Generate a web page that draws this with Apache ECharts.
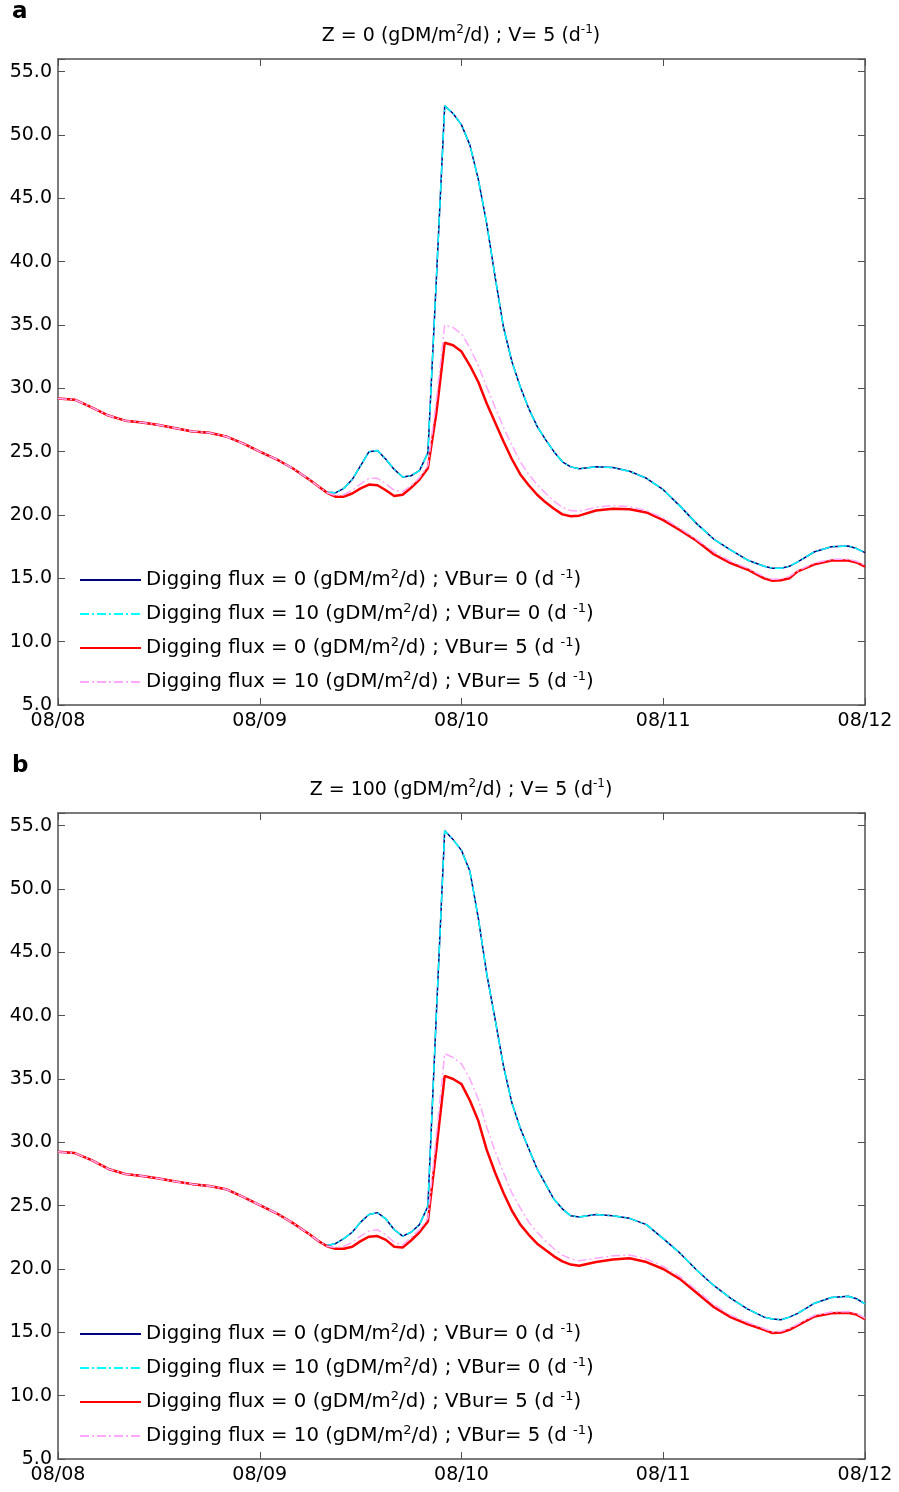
<!DOCTYPE html>
<html><head><meta charset="utf-8">
<script src="https://cdn.jsdelivr.net/npm/echarts@6/dist/echarts.min.js"></script>
<style>html,body{margin:0;padding:0;background:#fff}#c{width:899px;height:1492px}</style>
</head><body><div id="c"></div>
<script>
// Hours since 08/08 00:00
const hours = [0,2,4,6,8,10,12,14,16,18,20,22,24,26,28,30,
  31,32,33,34,35,36,37,38,39,40,41,42,43,44,45,46,47,48,49,50,51,52,53,54,55,56,57,58,59,60,61,62,
  64,66,68,70,72,74,76,78,80,82,84,85,86,87,88,90,92,94,95,96];
const dateLabels = ['08/08','08/09','08/10','08/11','08/12'];
const fluxLabels = ['0','10','0','10'];
const vburLabels = ['0','0','5','5'];
const panelTitles = [['0','5'],['100','5']];
const panelLetters = ['a','b'];

// Panel a (Z = 0)
const a_flux0_v0 = [29.2,29.1,28.5,27.85,27.45,27.3,27.1,26.85,26.6,26.5,26.2,25.65,25.0,24.4,23.65,22.75,
  22.25,21.8,21.75,22.1,22.8,23.9,25.0,25.1,24.4,23.6,23.0,23.1,23.5,24.9,38.5,52.3,51.7,50.8,49.2,46.5,43.0,38.8,34.8,32.1,30.1,28.4,27.0,25.95,25.0,24.2,23.8,23.65,
  23.8,23.75,23.45,22.9,22.0,20.7,19.3,18.1,17.25,16.45,15.95,15.8,15.8,15.95,16.3,17.1,17.5,17.55,17.35,17.03];
const a_flux10_v0 = [29.2,29.1,28.5,27.85,27.45,27.3,27.1,26.85,26.6,26.5,26.2,25.65,25.0,24.4,23.65,22.75,
  22.25,21.8,21.75,22.1,22.8,23.9,25.0,25.1,24.4,23.6,23.0,23.1,23.5,24.9,38.5,52.3,51.7,50.8,49.2,46.5,43.0,38.8,34.8,32.1,30.1,28.4,27.0,25.95,25.0,24.2,23.8,23.65,
  23.8,23.75,23.45,22.9,22.0,20.7,19.3,18.1,17.25,16.45,15.95,15.8,15.8,15.95,16.3,17.1,17.5,17.55,17.35,17.03];
const a_flux0_v5 = [29.2,29.1,28.5,27.85,27.45,27.3,27.1,26.85,26.6,26.5,26.2,25.65,25.0,24.4,23.65,22.75,
  22.25,21.75,21.45,21.45,21.7,22.1,22.4,22.35,21.95,21.5,21.6,22.15,22.8,23.7,28.0,33.6,33.4,32.9,31.8,30.5,28.8,27.3,25.8,24.4,23.2,22.35,21.6,21.0,20.5,20.05,19.9,19.95,
  20.35,20.5,20.45,20.2,19.6,18.8,17.95,16.9,16.2,15.7,15.0,14.8,14.85,15.0,15.55,16.1,16.4,16.4,16.25,15.92];
const a_flux10_v5 = [29.2,29.1,28.5,27.85,27.45,27.3,27.1,26.85,26.6,26.5,26.2,25.65,25.0,24.4,23.65,22.75,
  22.25,21.75,21.55,21.6,21.95,22.45,22.9,22.9,22.45,21.95,21.85,22.3,22.95,23.9,29.0,35.0,34.8,34.3,33.2,31.8,30.1,28.5,26.9,25.5,24.2,23.2,22.4,21.7,21.1,20.6,20.35,20.3,
  20.6,20.75,20.65,20.35,19.75,18.95,18.05,17.1,16.35,15.8,15.12,14.92,14.95,15.15,15.6,16.2,16.5,16.5,16.35,16.02];

// Panel b (Z = 100)
const b_flux0_v0 = [29.25,29.15,28.6,27.9,27.5,27.35,27.15,26.9,26.7,26.55,26.3,25.7,25.05,24.4,23.6,22.7,
  22.2,21.85,22.0,22.4,22.9,23.7,24.3,24.45,23.95,23.1,22.6,22.9,23.5,24.95,40.0,54.6,53.9,53.05,51.4,47.7,43.3,39.7,36.0,33.1,31.1,29.5,27.9,26.7,25.5,24.75,24.2,24.1,
  24.3,24.2,24.0,23.5,22.4,21.25,19.9,18.7,17.7,16.85,16.2,16.05,15.99,16.2,16.5,17.3,17.75,17.85,17.65,17.25];
const b_flux10_v0 = [29.25,29.15,28.6,27.9,27.5,27.35,27.15,26.9,26.7,26.55,26.3,25.7,25.05,24.4,23.6,22.7,
  22.2,21.85,22.0,22.4,22.9,23.7,24.3,24.45,23.95,23.1,22.6,22.9,23.5,24.95,40.0,54.6,53.9,53.05,51.4,47.7,43.3,39.7,36.0,33.1,31.1,29.5,27.9,26.7,25.5,24.75,24.2,24.1,
  24.3,24.2,24.0,23.5,22.4,21.25,19.9,18.7,17.7,16.85,16.2,16.05,15.99,16.2,16.5,17.3,17.75,17.85,17.65,17.25];
const b_flux0_v5 = [29.25,29.15,28.6,27.9,27.5,27.35,27.15,26.9,26.7,26.55,26.3,25.7,25.05,24.4,23.6,22.7,
  22.2,21.8,21.6,21.6,21.75,22.2,22.55,22.6,22.3,21.75,21.7,22.25,22.9,23.75,29.4,35.25,35.0,34.6,33.3,31.7,29.4,27.6,26.0,24.6,23.5,22.7,22.0,21.5,21.0,20.6,20.35,20.25,
  20.55,20.75,20.85,20.55,20.0,19.2,18.1,17.0,16.2,15.65,15.2,14.95,14.98,15.2,15.55,16.25,16.5,16.55,16.4,16.05];
const b_flux10_v5 = [29.25,29.15,28.6,27.9,27.5,27.35,27.15,26.9,26.7,26.55,26.3,25.7,25.05,24.4,23.6,22.7,
  22.2,21.8,21.7,21.8,22.1,22.6,23.0,23.1,22.7,22.1,21.9,22.5,23.1,24.0,30.5,37.0,36.7,36.2,35.0,33.4,31.2,29.3,27.6,26.0,24.8,23.7,22.9,22.2,21.6,21.1,20.8,20.65,
  20.85,21.05,21.1,20.8,20.2,19.4,18.3,17.2,16.35,15.8,15.3,15.05,15.08,15.3,15.65,16.35,16.6,16.65,16.48,16.12];

const panelData = [[a_flux0_v0,a_flux10_v0,a_flux0_v5,a_flux10_v5],[b_flux0_v0,b_flux10_v0,b_flux0_v5,b_flux10_v5]];

const FONT = 'DejaVu Sans';
const seriesNames = fluxLabels.map((f,i)=>'Digging flux = '+f+' (gDM/m2/d) ; VBur= '+vburLabels[i]+' (d -1)');
const richName = (f,v)=>'{n|Digging flux = '+f+' (gDM/m}{s|2}{n|/d) ; VBur= '+v+' (d }{s|-1}{n|)}';
const styles = [
  {color:'#000080', width:1.5, type:'solid'},
  {color:'#00ffff', width:1.5, type:[9,3,2,3]},
  {color:'#ff0000', width:2.5, type:'solid'},
  {color:'#ffa8ff', width:1.5, type:[9,3,2,3]}
];
const gridTops = [59, 813];
const gridH = 646;
const axisColor = '#505050';

const option = {
  animation:false,
  backgroundColor:'#fff',
  textStyle:{fontFamily:FONT},
  title:[], grid:[], xAxis:[], yAxis:[], legend:[], series:[]
};
panelTitles.forEach((t,p)=>{
  option.title.push({text:panelLetters[p], left:12, top:gridTops[p]-58, padding:0,
    textStyle:{fontFamily:FONT, fontSize:23, fontWeight:'bold', color:'#000'}});
  option.title.push({text:'{n|Z = '+t[0]+' (gDM/m}{s|2}{n|/d) ; V= '+t[1]+' (d}{s|-1}{n|)}',
    left:461, textAlign:'center', top:gridTops[p]-35, padding:0,
    textStyle:{fontFamily:FONT, color:'#000', fontWeight:'normal', rich:{
      n:{fontFamily:FONT, fontSize:19, fontWeight:'normal', lineHeight:24, color:'#000'},
      s:{fontFamily:FONT, fontSize:12, fontWeight:'normal', lineHeight:12, verticalAlign:'top', color:'#000'}}}});
  option.grid.push({left:58, top:gridTops[p], width:807, height:gridH, containLabel:false});
  const xb = {type:'value', gridIndex:p, min:0, max:96, interval:24, position:'bottom',
    axisLine:{show:true, lineStyle:{color:axisColor, width:1.5}},
    axisTick:{show:true, inside:true, length:7, lineStyle:{color:axisColor}},
    splitLine:{show:false},
    axisLabel:{show:true, fontFamily:FONT, fontSize:19, color:'#000', margin:7,
      formatter:v=>dateLabels[Math.round(v/24)]}};
  const xt = {type:'value', gridIndex:p, min:0, max:96, interval:24, position:'top',
    axisLine:{show:true, onZero:false, lineStyle:{color:axisColor, width:1.5}},
    axisTick:{show:true, inside:true, length:7, lineStyle:{color:axisColor}},
    splitLine:{show:false}, axisLabel:{show:false}};
  option.xAxis.push(xb, xt);
  const yl = {type:'value', gridIndex:p, min:5, max:56, interval:5, position:'left',
    axisLine:{show:true, onZero:false, lineStyle:{color:axisColor, width:1.5}},
    axisTick:{show:true, inside:true, length:7, lineStyle:{color:axisColor}},
    splitLine:{show:false},
    axisLabel:{show:true, fontFamily:FONT, fontSize:19, color:'#000', margin:6,
      formatter:v=>(v%5===0 ? v.toFixed(1) : '')}};
  const yr = {type:'value', gridIndex:p, min:5, max:56, interval:5, position:'right',
    axisLine:{show:true, onZero:false, lineStyle:{color:axisColor, width:1.5}},
    axisTick:{show:true, inside:true, length:7, lineStyle:{color:axisColor}},
    splitLine:{show:false}, axisLabel:{show:false}};
  option.yAxis.push(yl, yr);
  option.legend.push({orient:'vertical', left:79, top:gridTops[p]+509, padding:0,
    itemWidth:61, itemHeight:14, itemGap:12, selectedMode:false,
    data:seriesNames, itemStyle:{opacity:0},
    formatter:name=>{const i=seriesNames.indexOf(name); return richName(fluxLabels[i], vburLabels[i]);},
    textStyle:{fontFamily:FONT, color:'#000', rich:{
      n:{fontFamily:FONT, fontSize:19.7, lineHeight:24, color:'#000'},
      s:{fontFamily:FONT, fontSize:13, lineHeight:12, verticalAlign:'top', color:'#000'}}}});
  panelData[p].forEach((vals,i)=>{
    option.series.push({name:seriesNames[i], type:'line', xAxisIndex:2*p, yAxisIndex:2*p,
      symbol:'none', showSymbol:false, clip:true,
      lineStyle:{color:styles[i].color, width:styles[i].width, type:styles[i].type},
      itemStyle:{color:styles[i].color},
      data:hours.map((h,k)=>[h, vals[k]])});
  });
});
const chart = echarts.init(document.getElementById('c'), null, {renderer:'canvas'});
chart.setOption(option);
</script></body></html>
